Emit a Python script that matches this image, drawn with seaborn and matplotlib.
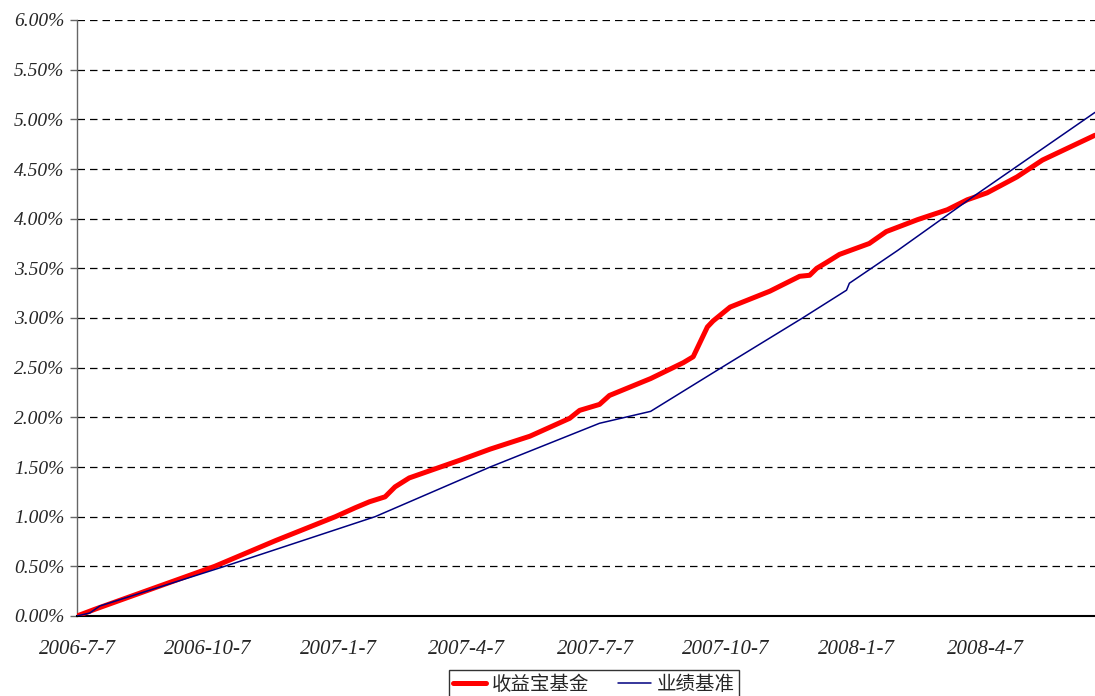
import pandas as pd
import numpy as np
import seaborn as sns
import matplotlib.pyplot as plt
import matplotlib.dates as mdates
from matplotlib.ticker import FixedLocator, FuncFormatter

# data (day offset from 2006-07-07, value in %)
fund_days = [0, 13, 97, 140, 182, 196, 206, 217, 224, 234, 256, 270, 291, 319, 347, 354, 368, 375,
             404, 427, 434, 444, 448, 460, 488, 509, 516, 521, 528, 537, 558, 570, 592, 613, 627,
             641, 662, 680, 717]
fund_vals = [0.00, 0.07, 0.50, 0.76, 1.00, 1.09, 1.15, 1.20, 1.30, 1.39, 1.50, 1.57, 1.68, 1.81,
             1.99, 2.07, 2.13, 2.22, 2.39, 2.55, 2.61, 2.91, 2.97, 3.11, 3.27, 3.42, 3.43, 3.50,
             3.56, 3.64, 3.75, 3.87, 3.99, 4.09, 4.19, 4.26, 4.42, 4.59, 4.84]
bench_days = [0, 9, 16, 104, 210, 291, 368, 404, 455, 511, 542, 544, 578, 631, 717]
bench_vals = [0.00, 0.03, 0.10, 0.50, 1.00, 1.50, 1.94, 2.06, 2.51, 3.00, 3.28, 3.35, 3.68, 4.22, 5.07]

start = pd.Timestamp("2006-07-07")
tick_dates = ["2006-07-07", "2006-10-07", "2007-01-07", "2007-04-07",
              "2007-07-07", "2007-10-07", "2008-01-07", "2008-04-07"]
y_ticks = [0, 0.5, 1, 1.5, 2, 2.5, 3, 3.5, 4, 4.5, 5, 5.5, 6]

fund = pd.DataFrame({"date": start + pd.to_timedelta(fund_days, unit="D"), "val": fund_vals})
bench = pd.DataFrame({"date": start + pd.to_timedelta(bench_days, unit="D"), "val": bench_vals})

sns.set_style("white")
plt.rcParams['font.family'] = ['Liberation Serif', 'Noto Sans CJK SC', 'DejaVu Sans']

fig = plt.figure(figsize=(10.95, 6.96), dpi=100)
ax = fig.add_axes([77 / 1095, 80 / 696, 1 - 77 / 1095, 596 / 696])

sns.lineplot(data=fund, x="date", y="val", ax=ax, color="#ff0000", linewidth=3.6,
             label="收益宝基金", zorder=3)
sns.lineplot(data=bench, x="date", y="val", ax=ax, color="#000080", linewidth=1.1,
             label="业绩基准", zorder=4)

ax.set_xlim(start, start + pd.Timedelta(days=717))
ax.set_ylim(0, 6)
ax.yaxis.set_major_locator(FixedLocator(y_ticks))
ax.yaxis.set_major_formatter(FuncFormatter(lambda v, p: f"{v:.2f}%"))
ax.xaxis.set_major_locator(FixedLocator([mdates.date2num(pd.Timestamp(d)) for d in tick_dates]))
ax.xaxis.set_major_formatter(FuncFormatter(
    lambda v, p: f"{mdates.num2date(v).year}-{mdates.num2date(v).month}-{mdates.num2date(v).day}"))

ax.grid(axis="y", color="black", linestyle=(0, (6, 4)), linewidth=0.9)
ax.grid(axis="x", visible=False)
ax.set_xlabel("")
ax.set_ylabel("")

for s in ["top", "right"]:
    ax.spines[s].set_visible(False)
ax.spines["left"].set_color("#666666")
ax.spines["left"].set_linewidth(1.0)
ax.spines["bottom"].set_color("black")
ax.spines["bottom"].set_linewidth(1.5)

ax.tick_params(axis="y", direction="out", length=5, width=1, color="#666666", left=True,
               labelsize=14, pad=4)
ax.tick_params(axis="x", length=0, labelsize=15, pad=17)
for lab in ax.get_xticklabels() + ax.get_yticklabels():
    lab.set_fontstyle("italic")

leg = ax.legend(loc="upper center", bbox_to_anchor=(594 / 1095, 26 / 696),
                bbox_transform=fig.transFigure, ncol=2, frameon=True, fancybox=False,
                borderaxespad=0,
                prop={"family": ["Noto Sans CJK SC", "DejaVu Sans"], "size": 14},
                handlelength=1.7, columnspacing=1.5, borderpad=0.2, handletextpad=0.3)
leg.get_frame().set_edgecolor("black")
leg.get_frame().set_linewidth(1.0)

plt.savefig("out.png", dpi=100)
